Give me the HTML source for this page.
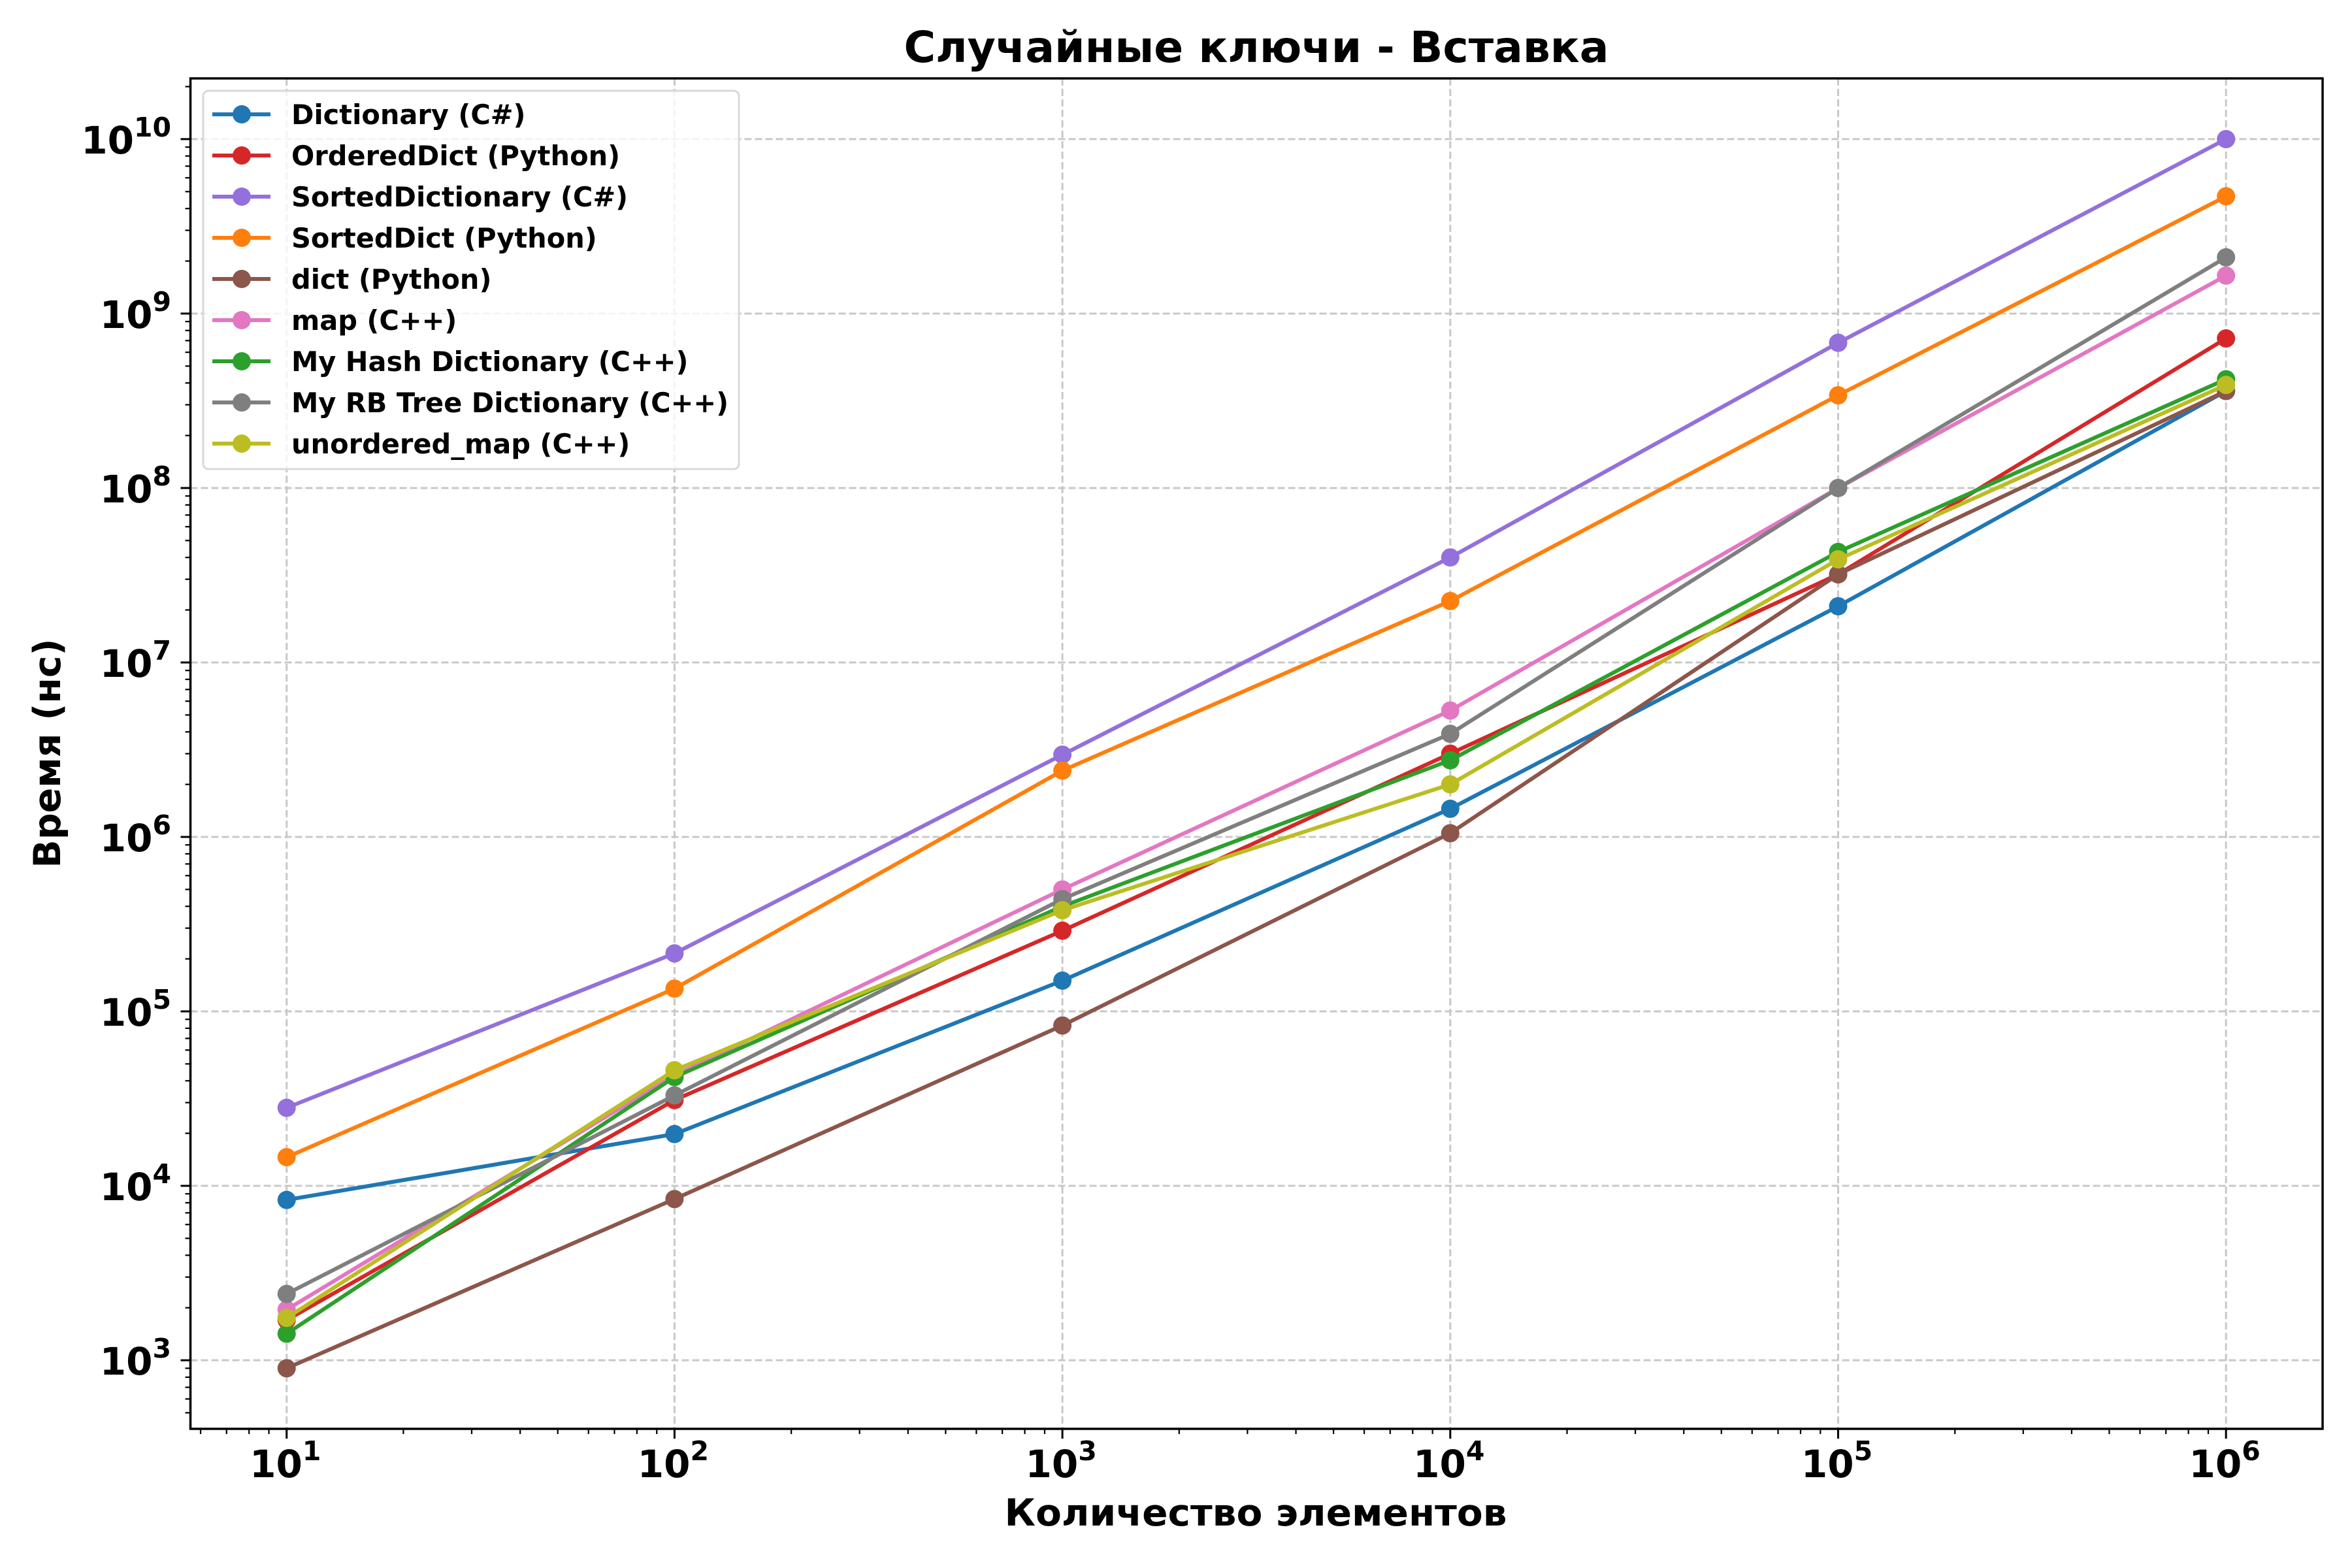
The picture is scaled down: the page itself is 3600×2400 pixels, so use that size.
<!DOCTYPE html>
<html><head><meta charset="utf-8"><style>
html,body{margin:0;padding:0;background:#fff;}
svg{display:block;font-family:"DejaVu Sans","Liberation Sans",sans-serif;font-weight:bold;}
</style></head><body>
<svg id="chart" width="3600" height="2400" viewBox="0 0 3600 2400" xmlns="http://www.w3.org/2000/svg">
<rect width="3600" height="2400" fill="#fff"/>
<g id="grid"></g>
<g id="series"></g>
<g id="axes"></g>
<g id="legend"></g>
<text x="1923" y="95" text-anchor="middle" font-size="66" textLength="1079" lengthAdjust="spacingAndGlyphs">Случайные ключи - Вставка</text>
<text x="1922" y="2335" text-anchor="middle" font-size="57" textLength="769" lengthAdjust="spacingAndGlyphs">Количество элементов</text>
<text x="0" y="0" transform="translate(92,1153) rotate(-90)" text-anchor="middle" font-size="57">Время (нс)</text>
</svg>
<script>
const xValues = [10, 100, 1000, 10000, 100000, 1000000];
const seriesNames = ["Dictionary (C#)", "OrderedDict (Python)", "SortedDictionary (C#)", "SortedDict (Python)", "dict (Python)", "map (C++)", "My Hash Dictionary (C++)", "My RB Tree Dictionary (C++)", "unordered_map (C++)"];
const seriesColors = ["#1f77b4", "#d62728", "#9370db", "#ff7f0e", "#8c564b", "#e377c2", "#2ca02c", "#7f7f7f", "#bcbd22"];
const dictionaryCs = [8300, 19800, 150000, 1450000, 21000000, 360000000];
const orderedDictPy = [1700, 31000, 290000, 3000000, 32000000, 720000000];
const sortedDictionaryCs = [28000, 215000, 2960000, 40000000, 680000000, 10000000000];
const sortedDictPy = [14600, 135000, 2400000, 22500000, 340000000, 4700000000];
const dictPy = [900, 8400, 83000, 1050000, 32000000, 360000000];
const mapCpp = [1950, 43000, 500000, 5300000, 100000000, 1650000000];
const myHashCpp = [1420, 42000, 400000, 2750000, 43000000, 420000000];
const myRbTreeCpp = [2400, 33000, 440000, 3900000, 100000000, 2100000000];
const unorderedMapCpp = [1750, 46000, 380000, 2000000, 39000000, 390000000];
const seriesValues = [dictionaryCs, orderedDictPy, sortedDictionaryCs, sortedDictPy, dictPy, mapCpp, myHashCpp, myRbTreeCpp, unorderedMapCpp];
const xTickExps = [1, 2, 3, 4, 5, 6];
const yTickExps = [3, 4, 5, 6, 7, 8, 9, 10];

const NS = "http://www.w3.org/2000/svg";
const L = 291.5, R = 3555, T = 120, B = 2187;
const xMin = 0.752, xMax = 6.249, yMin = 2.607, yMax = 10.348;
function xs(v){ return L + (Math.log10(v) - xMin) / (xMax - xMin) * (R - L); }
function ys(v){ return B - (Math.log10(v) - yMin) / (yMax - yMin) * (B - T); }
function mk(tag, attrs, parent){ const e = document.createElementNS(NS, tag); for (const k in attrs) e.setAttribute(k, attrs[k]); parent.appendChild(e); return e; }

const grid = document.getElementById('grid');
const axes = document.getElementById('axes');
const series = document.getElementById('series');
const legend = document.getElementById('legend');

xTickExps.forEach(function(e){
  const x = xs(Math.pow(10, e));
  const g = mk('line', {x1:x, x2:x, y1:T, y2:B, stroke:'#c8c8c8', 'stroke-width':3, 'stroke-dasharray':'11,5'}, grid);
  
  
  const t = mk('line', {x1:x, x2:x, y1:B, y2:B+15, stroke:'#000', 'stroke-width':3}, axes);
  
  
  const lab = mk('text', {x:x-2, y:2261, 'text-anchor':'middle', 'font-size':58}, axes);
  
  
  lab.appendChild(document.createTextNode('10'));
  const sup = mk('tspan', {dy:-26, 'font-size':41}, lab);
  sup.textContent = String(e);
});
for (let e = 0; e <= 6; e++) {
  for (let m = 2; m <= 9; m++) {
    const v = m * Math.pow(10, e);
    const lv = Math.log10(v);
    if (lv < xMin || lv > xMax) continue;
    const x = xs(v);
    const t = mk('line', {x1:x, x2:x, y1:B, y2:B+8, stroke:'#000', 'stroke-width':2.2}, axes);
    
    
  }
}
yTickExps.forEach(function(e){
  const y = ys(Math.pow(10, e));
  const g = mk('line', {x1:L, x2:R, y1:y, y2:y, stroke:'#c8c8c8', 'stroke-width':3, 'stroke-dasharray':'11,5'}, grid);
  
  
  const t = mk('line', {x1:L-15, x2:L, y1:y, y2:y, stroke:'#000', 'stroke-width':3}, axes);
  
  
  const lab = mk('text', {x:262, y:y+22, 'text-anchor':'end', 'font-size':58}, axes);
  
  
  lab.appendChild(document.createTextNode('10'));
  const sup = mk('tspan', {dy:-26, 'font-size':41}, lab);
  sup.textContent = String(e);
});
for (let e = 2; e <= 10; e++) {
  for (let m = 2; m <= 9; m++) {
    const v = m * Math.pow(10, e);
    const lv = Math.log10(v);
    if (lv < yMin || lv > yMax) continue;
    const y = ys(v);
    const t = mk('line', {x1:L-8, x2:L, y1:y, y2:y, stroke:'#000', 'stroke-width':2.2}, axes);
    
    
  }
}
const frame = mk('rect', {x:L, y:T, width:R-L, height:B-T, fill:'none', stroke:'#000', 'stroke-width':3.5}, axes);



seriesValues.forEach(function(vals, i){
  const g = mk('g', {}, series);
  
  
  const pts = vals.map(function(v, j){ return xs(xValues[j]).toFixed(1) + ',' + ys(v).toFixed(1); }).join(' ');
  const pl = mk('polyline', {points:pts, fill:'none', stroke:seriesColors[i], 'stroke-width':6, 'stroke-linejoin':'round'}, g);
  
  
  vals.forEach(function(v, j){
    const c = mk('circle', {cx:xs(xValues[j]), cy:ys(v), r:14, fill:seriesColors[i]}, g);
    
    
  });
});

const lbox = mk('rect', {x:311, y:139, width:820, height:579, rx:8, fill:'#fff', 'fill-opacity':0.8, stroke:'#d9d9d9', 'stroke-width':3}, legend);


seriesNames.forEach(function(name, i){
  const y = 175 + i * 63;
  const g = mk('g', {}, legend);
  
  
  mk('line', {x1:325, x2:414, y1:y, y2:y, stroke:seriesColors[i], 'stroke-width':6}, g);
  mk('circle', {cx:370, cy:y, r:14, fill:seriesColors[i]}, g);
  const t = mk('text', {x:446, y:y+15, 'font-size':41.5}, g);
  t.textContent = name;
});
</script>
</body></html>
